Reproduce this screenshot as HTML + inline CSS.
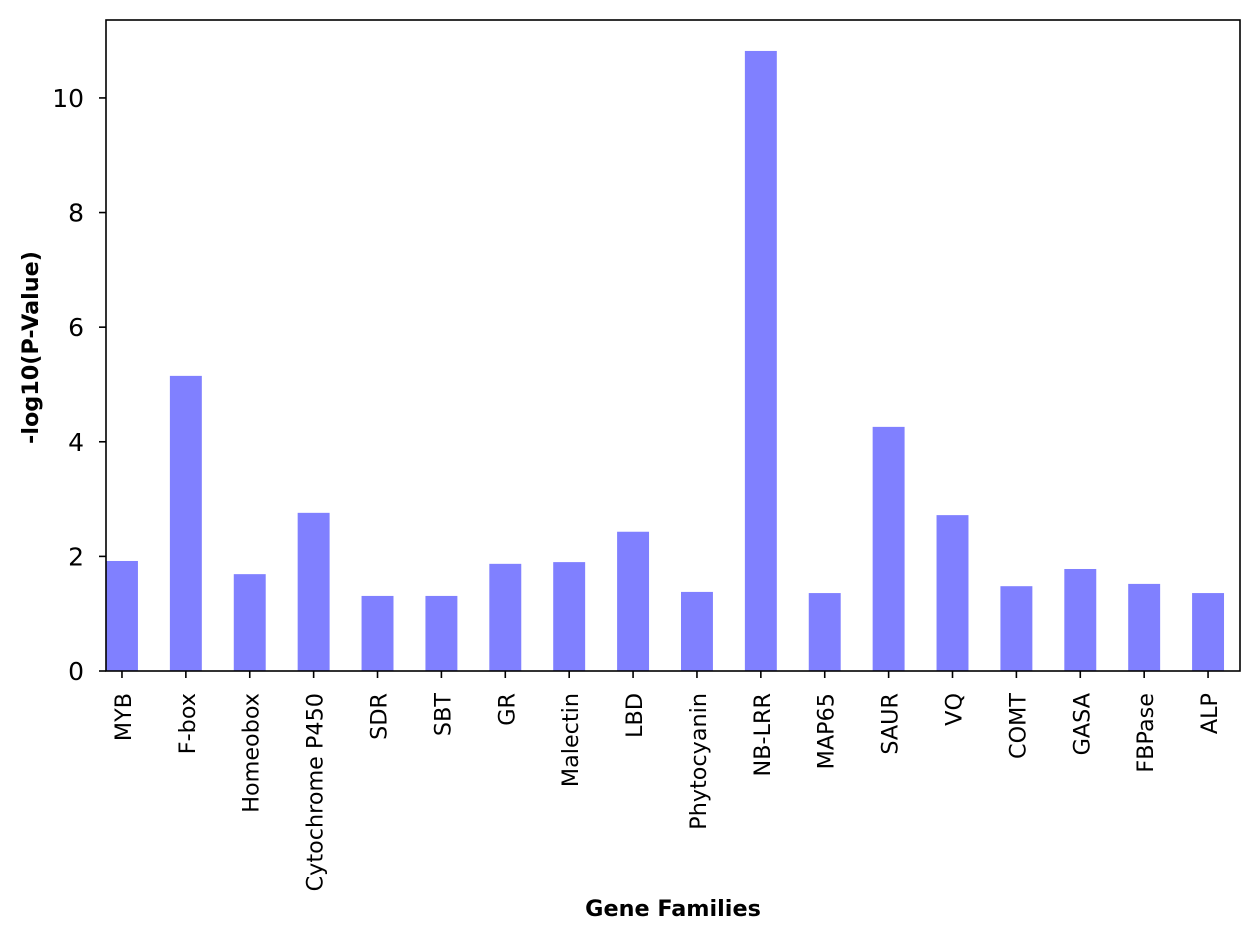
<!DOCTYPE html>
<html><head><meta charset="utf-8"><style>
body{margin:0;background:#fff;}
svg{display:block;font-family:"DejaVu Sans","Liberation Sans",sans-serif;}
</style></head><body>
<svg id="chart" width="1260" height="940">
<g id="bars"></g><g id="axes"></g>
</svg>
<script>
const categories=["MYB","F-box","Homeobox","Cytochrome P450","SDR","SBT","GR","Malectin","LBD","Phytocyanin","NB-LRR","MAP65","SAUR","VQ","COMT","GASA","FBPase","ALP"];
const values=[1.92,5.15,1.69,2.76,1.31,1.31,1.87,1.90,2.43,1.38,10.82,1.36,4.26,2.72,1.48,1.78,1.52,1.36];
const yTicks=[0,2,4,6,8,10];
const L=106,R=1240,T=20,B=671,yMax=11.36;
const NS="http://www.w3.org/2000/svg";
const gb=document.getElementById('bars'),ga=document.getElementById('axes');
const y=v=>B-(v/yMax)*(B-T);
const xMin=-0.25,xMax=categories.length-0.5;
const step=(R-L)/(xMax-xMin);
const xc=i=>L+(i-xMin)*step;
function mk(tag,attrs,parent){const e=document.createElementNS(NS,tag);for(const k in attrs)e.setAttribute(k,attrs[k]);parent.appendChild(e);return e;}
values.forEach((v,i)=>{
 const r=mk('rect',{x:xc(i)-step*0.25,y:y(v),width:step*0.5,height:B-y(v),fill:'#8080ff'},gb);
 
 
 mk('line',{x1:xc(i),x2:xc(i),y1:B,y2:B+7,stroke:'#000','stroke-width':1.6},ga);
 const t=mk('text',{x:0,y:0,'font-size':22.3,'text-anchor':'end',transform:`translate(${xc(i)+9},${B+22}) rotate(-90)`},ga);
 t.textContent=categories[i];
 
 
});
yTicks.forEach(v=>{
 mk('line',{x1:L-7,x2:L,y1:y(v),y2:y(v),stroke:'#000','stroke-width':1.6},ga);
 const t=mk('text',{x:L-22,y:y(v)+9,'font-size':25,'text-anchor':'end'},ga);
 t.textContent=v;
 
 
});
const fr=mk('rect',{x:L,y:T,width:R-L,height:B-T,fill:'none',stroke:'#000','stroke-width':1.6},ga);


const xl=mk('text',{x:(L+R)/2,y:916,'font-size':22.3,'font-weight':'bold','text-anchor':'middle'},ga);
xl.textContent='Gene Families';


const yl=mk('text',{x:0,y:0,'font-size':22.3,'font-weight':'bold','text-anchor':'middle',transform:`translate(38,${(T+B)/2+2}) rotate(-90)`},ga);
yl.textContent='-log10(P-Value)';


</script>
</body></html>
